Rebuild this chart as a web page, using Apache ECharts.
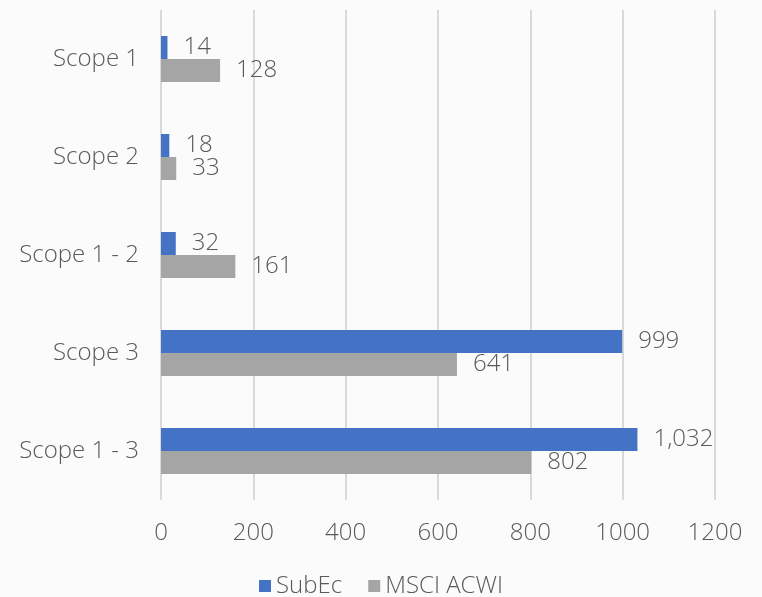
<!DOCTYPE html>
<html>
<head>
<meta charset="utf-8">
<script src="https://cdn.jsdelivr.net/npm/echarts@6/dist/echarts.min.js"></script>
<style>
  html, body { margin: 0; padding: 0; background: #fbfbfb; }
  #chart { width: 762px; height: 597px; }
</style>
</head>
<body>
<div id="chart"></div>
<script>
// Emissions intensity by scope
const categories = ['Scope 1', 'Scope 2', 'Scope 1 - 2', 'Scope 3', 'Scope 1 - 3'];
const subEcValues = [14, 18, 32, 999, 1032];
const msciValues = [128, 33, 161, 641, 802];
const xTicks = [0, 200, 400, 600, 800, 1000, 1200];

const FONT = '"Open Sans"';
const TEXT = '#595959';
const WEIGHT = 300;
const SIZE = 24;

const chart = echarts.init(document.getElementById('chart'), null, { renderer: 'canvas' });

const valueLabel = {
  show: true,
  position: 'right',
  distance: 16,
  color: TEXT,
  fontFamily: FONT,
  fontWeight: WEIGHT,
  fontSize: SIZE,
  formatter: p => p.value.toLocaleString('en-US')
};

chart.setOption({
  backgroundColor: '#fbfbfb',
  animation: false,
  grid: { left: 161, right: 47, top: 10, bottom: 97, containLabel: false },
  legend: {
    top: 569,
    left: 'center',
    icon: 'rect',
    itemWidth: 12,
    itemHeight: 12,
    itemGap: 26,
    textStyle: { color: TEXT, fontFamily: FONT, fontWeight: WEIGHT, fontSize: SIZE },
    data: ['SubEc', 'MSCI ACWI']
  },
  xAxis: {
    type: 'value',
    min: xTicks[0],
    max: xTicks[xTicks.length - 1],
    interval: xTicks[1] - xTicks[0],
    axisLine: { show: false },
    axisTick: { show: false },
    splitLine: { show: true, lineStyle: { color: '#d9d9d9', width: 2 } },
    axisLabel: {
      color: TEXT, fontFamily: FONT, fontWeight: WEIGHT, fontSize: SIZE, margin: 21,
      formatter: v => String(v)
    }
  },
  yAxis: {
    type: 'category',
    inverse: true,
    data: categories,
    axisLine: { show: false },
    axisTick: { show: false },
    axisLabel: { color: TEXT, fontFamily: FONT, fontWeight: WEIGHT, fontSize: SIZE, margin: 22 }
  },
  series: [
    {
      name: 'SubEc',
      type: 'bar',
      data: subEcValues,
      itemStyle: { color: '#4472c4' },
      barGap: '0%',
      barCategoryGap: '53%',
      label: valueLabel
    },
    {
      name: 'MSCI ACWI',
      type: 'bar',
      data: msciValues,
      itemStyle: { color: '#a5a5a5' },
      barGap: '0%',
      barCategoryGap: '53%',
      label: valueLabel
    }
  ]
});
</script>
</body>
</html>
